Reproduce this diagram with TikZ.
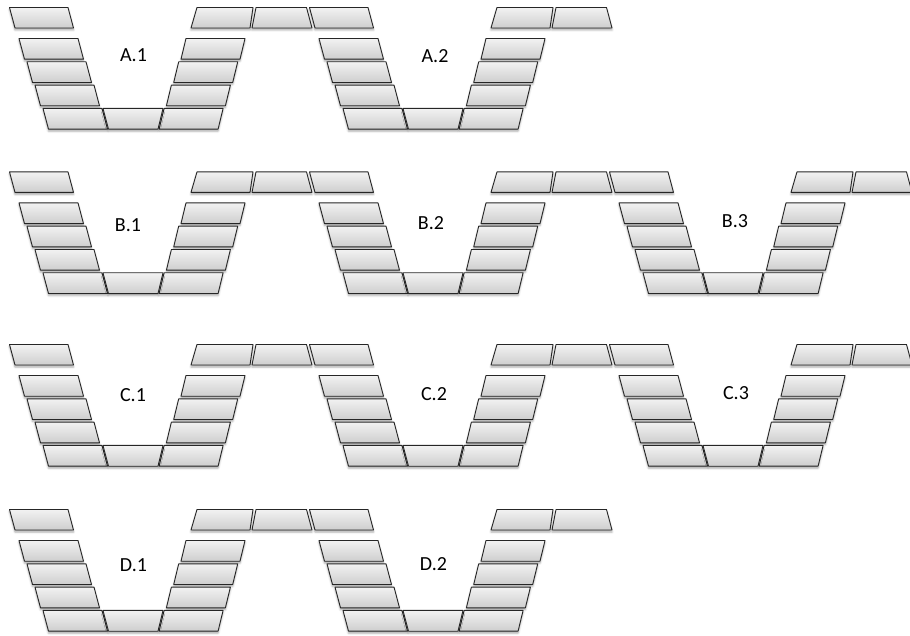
\documentclass[tikz,border=0pt]{standalone}
\usepackage{fontspec}
\setsansfont{Carlito}
\usepackage{tikz}
\usetikzlibrary{shadows.blur}
\definecolor{brickhi}{RGB}{242,242,242}
\definecolor{bricklo}{RGB}{206,206,206}
\tikzset{
  brick/.style ={draw=black!85,line width=0.9pt,line join=round,
                 top color=brickhi,bottom color=bricklo,
                 blur shadow={shadow xshift=0pt,shadow yshift=-2pt,
                              shadow blur radius=2pt,shadow opacity=35}},
  tag/.style   ={font=\fontsize{20}{24}\selectfont\sffamily,inner sep=0pt},
}
% brick: top y, bottom y, top-left x, top-right x, bottom-left x, bottom-right x
\newcommand{\brick}[6]{\path[brick] (#3,#1) -- (#4,#1) -- (#6,#2) -- (#5,#2) -- cycle;}
\tikzset{
  trench/.pic={
    % ledge
    \brick{7.5}{28}{9.5}{68}{15}{73.5}
    \brick{7.5}{28}{197}{253}{191}{250}
    \brick{7.5}{28}{256}{306.5}{252}{312}
    % walls
    \foreach \i in {0,...,3}{
      \pgfmathsetmacro\yt{38.5+23.3*\i}
      \pgfmathsetmacro\yb{\yt+20.7}
      \pgfmathsetmacro\lx{19+8*\i}
      \pgfmathsetmacro\rx{186-7.3*\i}
      \brick{\yt}{\yb}{\lx}{\lx+59}{\lx+5.5}{\lx+64.5}
      \brick{\yt}{\yb}{\rx}{\rx+59}{\rx-5}{\rx+54}
    }
    % floor
    \brick{108.4}{129.2}{103}{163}{108.5}{158}
  },
}

\begin{document}
\begin{tikzpicture}[x=1pt,y=-1pt]
  \useasboundingbox (0,0) rectangle (910,636);
  \clip (0,0) rectangle (910,636);
  % row A
  \pic at (0,0)   {trench};
  \pic at (300,0) {trench};
  % row B
  \pic at (0,164.4)   {trench};
  \pic at (300,164.4) {trench};
  \pic at (600,164.4) {trench};
  % row C
  \pic at (0,337)   {trench};
  \pic at (300,337) {trench};
  \pic at (600,337) {trench};
  % row D
  \pic at (0,502)   {trench};
  \pic at (300,502) {trench};
  % labels
  \node[tag] (a1) at (133.5,55.3) {A.1};
  \node[tag] (a2) at (435,55.8)   {A.2};
  \node[tag] (b1) at (128,225)    {B.1};
  \node[tag] (b2) at (431,223)    {B.2};
  \node[tag] (b3) at (735,221)    {B.3};
  \node[tag] (c1) at (133,395)    {C.1};
  \node[tag] (c2) at (434,394)    {C.2};
  \node[tag] (c3) at (736,393)    {C.3};
  \node[tag] (d1) at (133.5,565)  {D.1};
  \node[tag] (d2) at (433.5,564)  {D.2};
\end{tikzpicture}
\end{document}
